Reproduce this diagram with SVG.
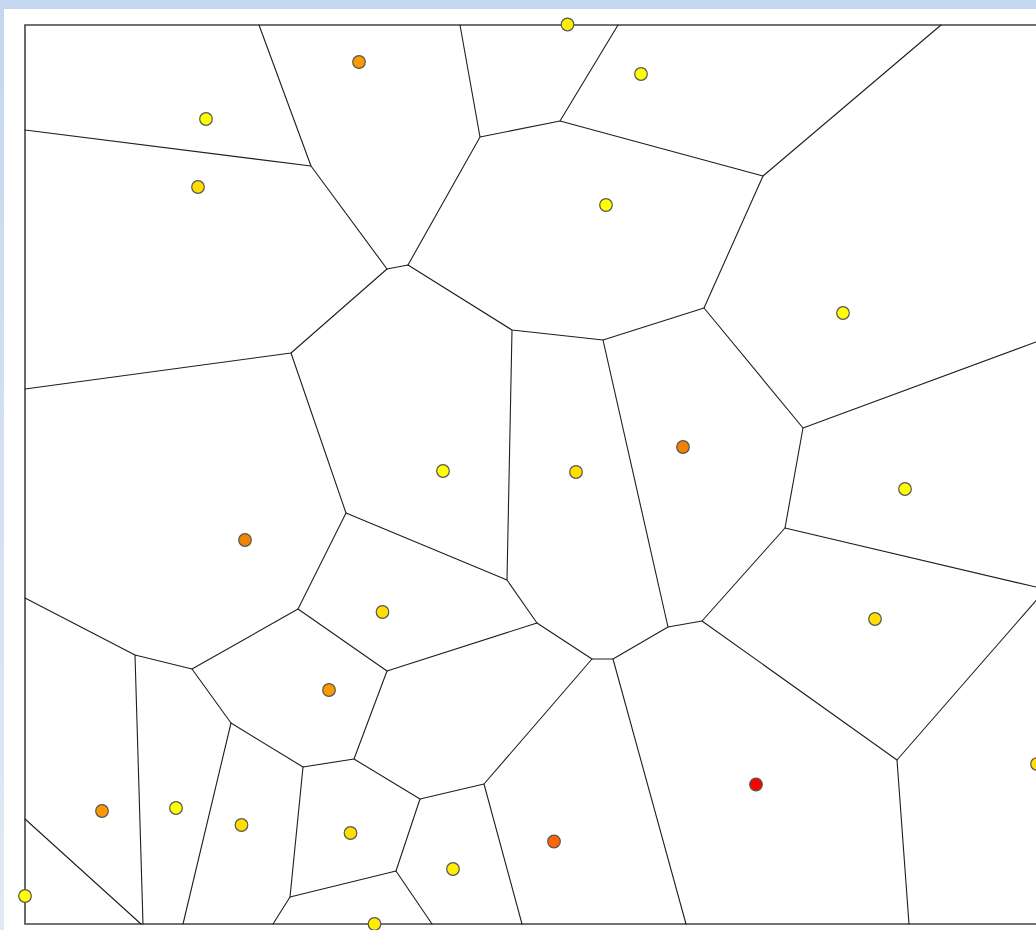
<svg xmlns="http://www.w3.org/2000/svg" width="1036" height="930" viewBox="0 0 1036 930">
<defs>
<linearGradient id="side" x1="0" y1="0" x2="0" y2="1">
<stop offset="0" stop-color="#c4d7ef"/>
<stop offset="1" stop-color="#e2e9f5"/>
</linearGradient>
<style>
.edge{stroke:#1e1e1e;stroke-width:1.1;fill:none;stroke-linecap:round;stroke-linejoin:round}
.frame{stroke:#444;stroke-width:1.6;fill:none}
.site{stroke:#555;stroke-width:1.2}
.y{fill:#ffff00}.g{fill:#ffde00}.e{fill:#ffee00}.o{fill:#ff9900}.o2{fill:#f08400}.r6{fill:#ff6600}.r{fill:#ff0000}
</style>
</defs>
<rect x="0" y="0" width="1036" height="930" fill="#ffffff"/>
<rect x="0" y="0" width="4" height="930" fill="url(#side)"/>
<rect x="0" y="0" width="1036" height="9" fill="#c4d7ef"/>
<g id="frame"><path class="frame" d="M1040,25 H25 V924 H1040"/></g>
<g id="connectors">
<path class="edge" d="M25,130 L311,166"/>
<path class="edge" d="M259,25 L311,166 L387,269 L408,265"/>
<path class="edge" d="M387,269 L291,353 L25,389"/>
<path class="edge" d="M408,265 L480,137 L460,25"/>
<path class="edge" d="M480,137 L560,121 L618,25"/>
<path class="edge" d="M560,121 L763,176 L941,25"/>
<path class="edge" d="M763,176 L704,308 L603,340 L512,330 L408,265"/>
<path class="edge" d="M704,308 L803,428 L1036,342"/>
<path class="edge" d="M803,428 L785,528 L1040,588"/>
<path class="edge" d="M785,528 L702,621 L668,627 L603,340"/>
<path class="edge" d="M512,330 L507,580 L346,513 L291,353"/>
<path class="edge" d="M507,580 L537,623 L592,659 L613,659 L668,627"/>
<path class="edge" d="M537,623 L387,671 L298,609 L346,513"/>
<path class="edge" d="M298,609 L192,669 L135,655 L25,598"/>
<path class="edge" d="M135,655 L143,924"/>
<path class="edge" d="M192,669 L231,723 L183,924"/>
<path class="edge" d="M231,723 L303,767 L290,897 L273,924"/>
<path class="edge" d="M290,897 L396,871 L432,924"/>
<path class="edge" d="M387,671 L354,759 L303,767"/>
<path class="edge" d="M354,759 L420,799 L396,871"/>
<path class="edge" d="M420,799 L484,784 L592,659"/>
<path class="edge" d="M484,784 L522,924"/>
<path class="edge" d="M613,659 L686,924"/>
<path class="edge" d="M702,621 L897,760 L1040,596"/>
<path class="edge" d="M897,760 L909,924"/>
<path class="edge" d="M25,819 L141,924"/>
</g>
<g id="sites">
<g id="n1"><circle class="site y" cx="206" cy="119" r="6.3"/></g>
<g id="n2"><circle class="site g" cx="198" cy="187" r="6.3"/></g>
<g id="n3"><circle class="site o" cx="359" cy="62" r="6.3"/></g>
<g id="n4"><circle class="site e" cx="567.5" cy="24.5" r="6.3"/></g>
<g id="n5"><circle class="site y" cx="641" cy="74" r="6.3"/></g>
<g id="n6"><circle class="site y" cx="606" cy="205" r="6.3"/></g>
<g id="n7"><circle class="site y" cx="843" cy="313" r="6.3"/></g>
<g id="n8"><circle class="site y" cx="443" cy="471" r="6.3"/></g>
<g id="n9"><circle class="site g" cx="576" cy="472" r="6.3"/></g>
<g id="n10"><circle class="site o2" cx="683" cy="447" r="6.3"/></g>
<g id="n11"><circle class="site y" cx="905" cy="489" r="6.3"/></g>
<g id="n12"><circle class="site o2" cx="245" cy="540" r="6.3"/></g>
<g id="n13"><circle class="site g" cx="382.5" cy="612" r="6.3"/></g>
<g id="n14"><circle class="site g" cx="875" cy="619" r="6.3"/></g>
<g id="n15"><circle class="site o" cx="329" cy="690" r="6.3"/></g>
<g id="n16"><circle class="site o" cx="102" cy="811" r="6.3"/></g>
<g id="n17"><circle class="site y" cx="176" cy="808" r="6.3"/></g>
<g id="n18"><circle class="site g" cx="241.5" cy="825" r="6.3"/></g>
<g id="n19"><circle class="site g" cx="350.5" cy="833" r="6.3"/></g>
<g id="n20"><circle class="site e" cx="453" cy="869" r="6.3"/></g>
<g id="n21"><circle class="site r6" cx="554" cy="841.5" r="6.3"/></g>
<g id="n22"><circle class="site r" cx="756" cy="784.5" r="6.3"/></g>
<g id="n23"><circle class="site g" cx="1037" cy="764" r="6.3"/></g>
<g id="n24"><circle class="site y" cx="25" cy="896" r="6.3"/></g>
<g id="n25"><circle class="site e" cx="374.5" cy="924" r="6.3"/></g>
</g>
</svg>
